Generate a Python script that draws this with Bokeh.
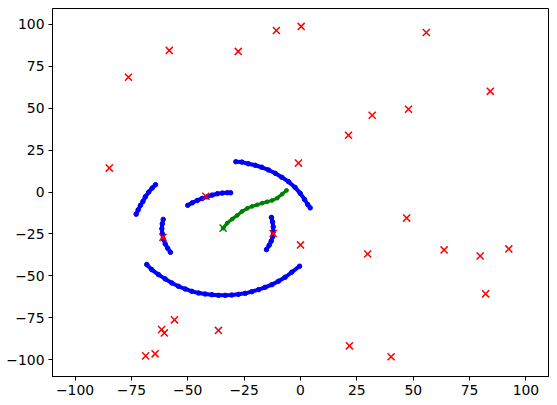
from bokeh.plotting import figure
from bokeh.models import Range1d, FixedTicker, CustomJSTickFormatter, ColumnDataSource
from bokeh.embed import file_html
from bokeh.resources import INLINE

# ---- data ----
red_x = [-84.8, -76.3, -58.2, -27.6, -10.7, 0.3, 55.8, 84.2, 47.9, 31.8, 21.3, -0.9,
         -42.0, -61.0, -12.1, 47.1, 0.0, 29.8, 63.7, 79.7, 92.4, 82.1, 21.7, 40.2,
         -36.4, -55.9, -61.6, -60.4, -64.5, -68.7]
red_y = [14.3, 68.5, 84.5, 83.9, 96.4, 98.8, 95.2, 60.1, 49.4, 45.8, 33.9, 17.3,
         -2.5, -27.0, -24.7, -15.5, -31.5, -36.9, -34.5, -38.1, -33.9, -60.7, -91.7, -98.2,
         -82.5, -76.2, -82.0, -84.0, -96.5, -97.7]

outer_top_x = [-28.7, -26.0, -23.1, -20.1, -17.2, -14.2, -11.2, -8.3, -5.3, -2.4, -0.1, 1.8, 3.2, 4.3]
outer_top_y = [18.1, 17.9, 16.9, 16.0, 14.8, 13.2, 11.2, 8.8, 6.2, 2.8, -0.8, -4.4, -7.4, -9.4]

outer_left_x = [-64.3, -65.8, -67.3, -68.8, -69.9, -71.0, -72.0, -72.9]
outer_left_y = [4.4, 2.4, 0.0, -2.8, -5.6, -7.9, -10.6, -13.2]

inner_left_x = [-60.9, -61.3, -61.5, -61.3, -60.9, -60.0, -58.9, -57.7]
inner_left_y = [-16.3, -18.9, -21.9, -24.9, -27.9, -30.9, -33.5, -35.9]

inner_top_x = [-50.0, -48.0, -45.8, -43.6, -41.4, -39.2, -36.9, -34.7, -32.5, -31.0]
inner_top_y = [-7.9, -6.4, -5.0, -3.8, -2.8, -1.8, -1.0, -0.6, -0.4, -0.4]

inner_right_x = [-12.9, -12.4, -12.1, -12.1, -12.4, -13.0, -13.9, -15.1]
inner_right_y = [-15.1, -17.8, -20.7, -23.7, -26.7, -29.3, -31.7, -34.3]

bottom_x = [-68.2, -66.0, -63.0, -60.0, -57.1, -54.1, -51.1, -48.2, -45.2, -42.3, -39.3,
            -36.4, -33.4, -30.5, -27.5, -24.5, -21.6, -18.6, -15.7, -12.7, -9.8, -6.8, -3.9, -0.4]
bottom_y = [-43.2, -46.2, -49.2, -51.8, -54.2, -56.2, -57.8, -59.2, -60.2, -60.8, -61.2,
            -61.6, -61.6, -61.4, -61.0, -60.4, -59.4, -58.2, -56.8, -55.2, -53.2, -50.8, -47.8, -44.2]

green_x = [-34.3, -32.5, -30.3, -28.1, -25.9, -23.6, -21.4, -19.2, -17.0, -14.8, -12.6, -10.3, -8.1, -6.2]
green_y = [-21.5, -18.5, -16.1, -13.9, -11.5, -9.7, -8.5, -7.6, -6.6, -5.8, -5.0, -3.6, -1.2, 1.0]
green_mark_x = [-34.3]
green_mark_y = [-21.5]

ticks = [-100, -75, -50, -25, 0, 25, 50, 75, 100]

p = figure(width=557, height=405, output_backend="svg", toolbar_location=None,
           x_range=Range1d(-110, 110), y_range=Range1d(-110, 109.5),
           min_border_left=52, min_border_right=9, min_border_top=8, min_border_bottom=29)

p.xgrid.visible = False
p.ygrid.visible = False
p.outline_line_color = "black"
p.outline_line_width = 1
p.outline_line_alpha = 1
p.background_fill_color = "white"
p.border_fill_color = "white"

fmt = CustomJSTickFormatter(code="return tick < 0 ? '\\u2212' + Math.abs(tick) : String(tick);")
for ax in (p.xaxis[0], p.yaxis[0]):
    ax.ticker = FixedTicker(ticks=ticks)
    ax.formatter = fmt
    ax.major_tick_in = 0
    ax.major_tick_out = 4
    ax.minor_tick_in = 0
    ax.minor_tick_out = 0
    ax.major_label_standoff = 4
    ax.major_label_text_font = "DejaVu Sans"
    ax.major_label_text_font_size = "13.9px"
    ax.major_label_text_color = "black"
    ax.axis_line_color = "black"
    ax.major_tick_line_color = "black"

blue = "#0000ff"
for xs, ys in [(outer_top_x, outer_top_y), (outer_left_x, outer_left_y),
               (inner_left_x, inner_left_y), (inner_top_x, inner_top_y),
               (inner_right_x, inner_right_y), (bottom_x, bottom_y)]:
    src = ColumnDataSource(dict(x=xs, y=ys))
    p.line("x", "y", source=src, line_color=blue, line_width=4,
           line_cap="round", line_join="round")
    p.scatter("x", "y", source=src, marker="circle", size=4.5, fill_color=blue, line_color=blue)

gsrc = ColumnDataSource(dict(x=green_x, y=green_y))
p.line("x", "y", source=gsrc, line_color="#008000", line_width=3.2, line_cap="round", line_join="round")
p.scatter("x", "y", source=gsrc, marker="circle", size=3.8, fill_color="#008000", line_color="#008000")
p.scatter(green_mark_x, green_mark_y, marker="x", size=10, line_color="#008000", line_width=1.5)

p.scatter(red_x, red_y, marker="x", size=10, line_color="#ff0000", line_width=1.5)

open("out.html", "w").write(file_html(p, INLINE))
